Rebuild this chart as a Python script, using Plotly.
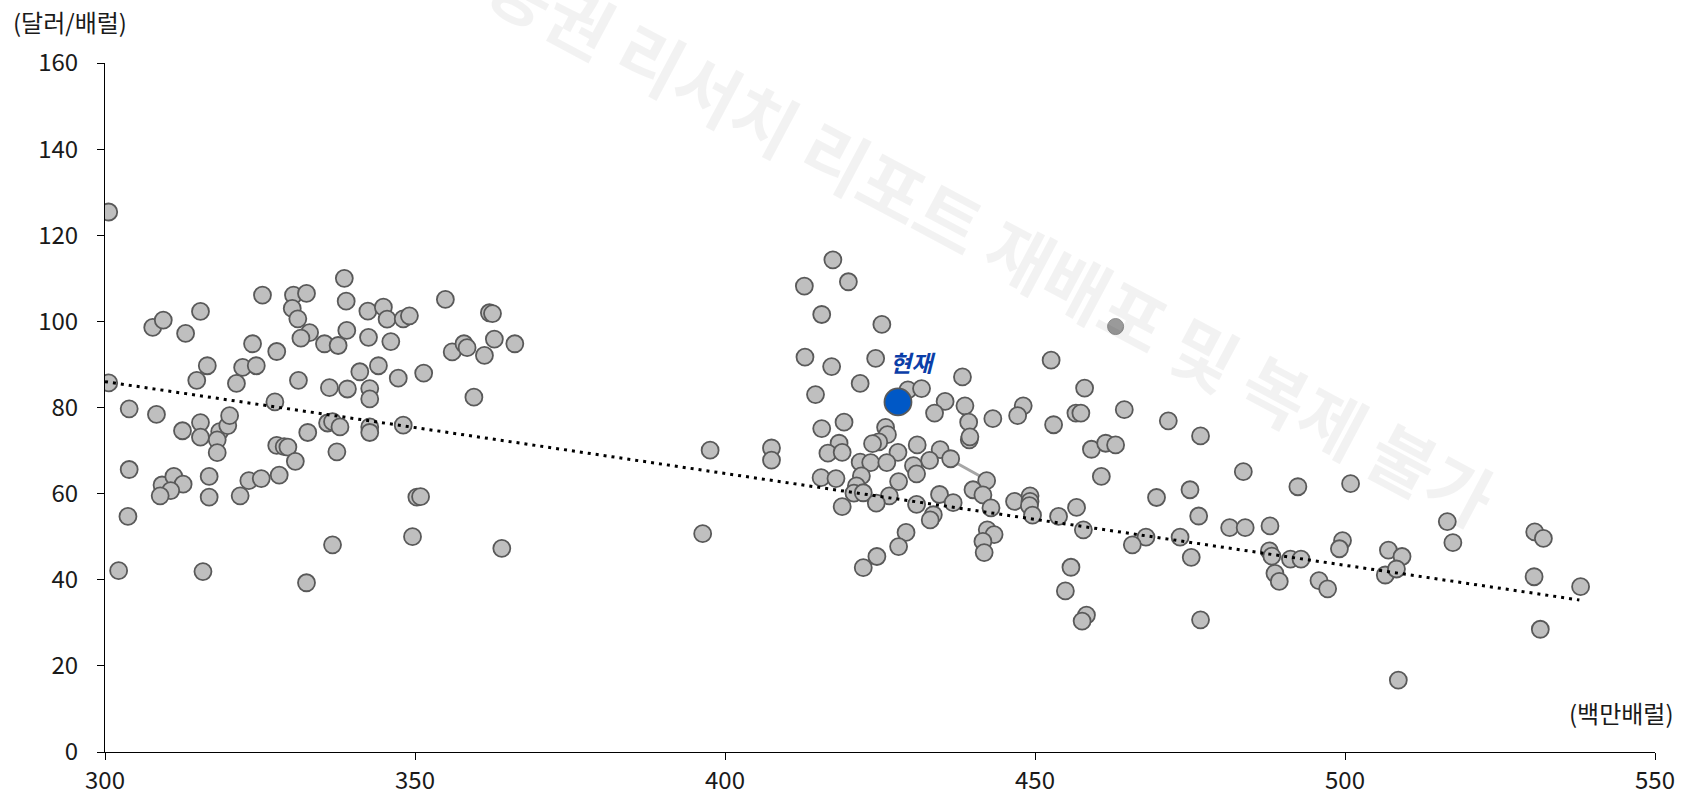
import plotly.graph_objects as go

# x: 백만배럴, y: 달러/배럴
x_hist = [300.6, 300.6, 303.9, 303.9, 303.7, 302.2, 307.7, 309.4, 308.3, 313.0, 315.4, 316.5, 314.8, 312.5, 315.4,
          315.4, 318.5, 318.1, 318.1, 319.8, 320.1, 309.2, 311.1, 312.6, 310.6, 308.9, 316.8, 316.8, 315.8, 321.8,
          323.2, 325.2, 328.1, 323.8, 322.2, 324.4, 321.2, 325.4, 327.7, 327.4, 327.7, 328.9, 329.5, 330.7, 330.4,
          332.5, 330.2, 331.1, 333.0, 331.6, 331.2, 332.7, 335.4, 337.6, 338.6, 338.9, 339.0, 336.2, 339.1, 335.9,
          336.7, 337.9, 337.4, 336.7, 332.5, 342.4, 344.9, 345.5, 342.5, 346.1, 344.1, 341.1, 342.7, 342.7, 342.7,
          342.7, 347.3, 348.1, 349.1, 348.1, 351.4, 350.3, 350.9, 349.6, 354.9, 356.0, 357.9, 358.4, 361.2, 359.5,
          362.0, 362.5, 362.8, 366.1, 364.0,
          397.6, 396.4, 407.5, 407.5, 417.4, 412.8, 419.9, 415.6, 425.3, 412.9, 417.2, 424.3, 421.8, 414.6, 429.5,
          431.7, 438.3, 435.5, 433.8, 438.7, 439.3, 439.4, 439.5, 443.2, 448.1, 447.2, 452.6, 458.0, 456.6, 457.4,
          453.0, 459.1, 461.4, 463.0, 460.7, 415.6, 419.2, 418.4, 416.6, 418.9, 425.9, 426.2, 424.8, 423.8, 427.9,
          431.0, 434.7, 433.0, 436.4, 421.8, 423.5, 426.1, 430.4, 430.9, 422.0, 415.5, 417.9, 428.0, 421.2, 420.8,
          422.3, 426.5, 424.4, 418.9, 430.9, 434.6, 436.8, 442.2, 440.0, 441.6, 442.9, 433.6, 433.1, 429.2, 428.0,
          424.5, 422.3, 442.3, 443.4, 441.6, 441.8, 446.7, 449.2, 449.2, 449.1, 449.6, 453.8, 456.7, 457.8, 455.8,
          454.9, 458.3, 457.6,
          464.4, 471.5, 476.7, 483.6, 475.0, 469.6, 476.4, 467.9, 465.7, 473.4, 475.2, 476.7, 481.4, 483.9, 487.9,
          492.4, 500.9, 487.8, 488.2, 488.7, 489.4, 491.2, 492.9, 495.8, 497.2, 499.6, 499.1, 507.0, 509.2, 506.5,
          508.3, 508.6, 516.5, 517.4, 530.6, 532.0, 530.5, 531.5, 538.0]
y_hist = [125.4, 85.7, 79.7, 65.6, 54.7, 42.1, 98.6, 100.3, 78.4, 97.2, 102.3, 89.7, 86.3, 74.6, 76.5,
          73.1, 74.4, 72.5, 69.5, 75.8, 78.1, 62.0, 64.0, 62.2, 60.7, 59.5, 64.0, 59.2, 41.9, 59.5,
          63.0, 63.5, 64.3, 94.8, 89.3, 89.7, 85.6, 106.1, 93.0, 81.3, 71.2, 70.9, 70.8, 67.5, 106.1,
          106.5, 103.0, 100.6, 97.4, 96.1, 86.3, 74.2, 94.8, 94.4, 110.0, 104.7, 97.9, 84.6, 84.3, 76.4,
          76.7, 75.5, 69.7, 48.1, 39.3, 102.4, 103.3, 100.5, 96.3, 95.3, 89.7, 88.3, 84.4, 82.0, 75.5,
          74.2, 86.8, 100.6, 101.3, 75.9, 88.0, 59.2, 59.3, 50.0, 105.1, 92.9, 94.8, 93.9, 92.1, 82.4,
          102.0, 101.8, 95.9, 94.8, 47.3,
          70.1, 50.7, 70.6, 67.8, 114.3, 108.2, 109.2, 101.6, 99.3, 91.7, 89.5, 91.4, 85.6, 83.0, 84.1,
          84.4, 87.1, 81.4, 78.7, 80.4, 76.6, 72.5, 73.2, 77.4, 80.4, 78.1, 91.0, 84.5, 78.7, 78.7,
          76.0, 70.3, 71.7, 71.3, 64.0, 75.1, 76.6, 71.7, 69.4, 69.6, 75.4, 73.7, 72.0, 71.6, 69.6,
          71.3, 70.2, 67.7, 68.1, 67.3, 67.2, 67.2, 66.5, 64.6, 64.1, 63.7, 63.5, 62.8, 61.8, 60.1,
          60.2, 59.5, 57.8, 57.0, 57.5, 59.8, 57.9, 63.0, 60.9, 59.7, 56.7, 55.1, 53.9, 51.0, 47.7,
          45.4, 42.8, 51.6, 50.5, 48.9, 46.3, 58.2, 59.5, 58.2, 57.2, 55.0, 54.7, 56.8, 51.6, 42.9,
          37.4, 31.8, 30.4,
          79.5, 76.9, 73.4, 65.1, 60.9, 59.1, 54.8, 49.9, 48.1, 49.9, 45.2, 30.7, 52.1, 52.1, 52.5,
          61.6, 62.3, 46.7, 45.5, 41.5, 39.6, 44.8, 44.8, 39.8, 37.9, 49.1, 47.2, 46.9, 45.4, 41.1,
          42.5, 16.7, 53.5, 48.6, 51.1, 49.6, 40.7, 28.5, 38.4]

x_now = [427.9]
y_now = [81.3]

x_faded = [463.0]
y_faded = [98.8]

x_leader = [437.4, 441.1]
y_leader = [67.05, 64.1]

trend_x = [300, 537.8]
trend_y = [86.0, 35.3]

x_ticks = [300, 350, 400, 450, 500, 550]
y_ticks = [0, 20, 40, 60, 80, 100, 120, 140, 160]

font_kr = "Noto Sans CJK KR"

fig = go.Figure()

fig.add_trace(go.Scatter(x=x_leader, y=y_leader, mode='lines',
                         line=dict(color='#a6a6a6', width=3), hoverinfo='skip'))

fig.add_trace(go.Scatter(x=x_hist, y=y_hist, mode='markers',
                         marker=dict(size=17, color='#bfbfbf', line=dict(color='#595959', width=1.8))))

fig.add_trace(go.Scatter(x=x_faded, y=y_faded, mode='markers',
                         marker=dict(size=16, color='#9a9a9a', line=dict(color='#8c8c8c', width=1))))

fig.add_trace(go.Scatter(x=trend_x, y=trend_y, mode='lines',
                         line=dict(color='black', width=3, dash='3px,5px')))

fig.add_trace(go.Scatter(x=x_now, y=y_now, mode='markers',
                         marker=dict(size=27, color='#0058c6', line=dict(color='#595959', width=1.8))))

# watermark (data refs so it does not push the margins)
fig.add_annotation(text="<b>증권 리서치 리포트 재배포 및 복제 불가</b>", x=443.3, y=119.3,
                   xanchor='center', yanchor='middle', showarrow=False, textangle=28,
                   font=dict(family=font_kr, size=70, color='rgba(0,0,0,0.05)'))

fig.add_annotation(text="<b><i>현재</i></b>", x=430.3, y=90.6, showarrow=False,
                   xanchor='center', yanchor='middle',
                   font=dict(family=font_kr, size=23, color='#0b3ea8'))

fig.add_annotation(text="(달러/배럴)", xref='paper', yref='paper', x=-0.0606, y=1.06,
                   xanchor='left', yanchor='middle', showarrow=False,
                   font=dict(family=font_kr, size=24, color='#1a1a1a'))

fig.add_annotation(text="(백만배럴)", xref='paper', yref='paper', x=1.0135, y=0.057,
                   xanchor='right', yanchor='middle', showarrow=False,
                   font=dict(family=font_kr, size=24, color='#1a1a1a'))

fig.update_xaxes(range=[300, 550], tickvals=x_ticks, showgrid=False, zeroline=False, automargin=False,
                 showline=True, linecolor='black', linewidth=1, ticks='outside', ticklen=7,
                 tickcolor='black', tickfont=dict(family=font_kr, size=24, color='#1a1a1a'))
fig.update_yaxes(range=[0, 160], tickvals=y_ticks, showgrid=False, zeroline=False, automargin=False,
                 showline=True, linecolor='black', linewidth=1, ticks='outside', ticklen=7,
                 ticklabelstandoff=14,
                 tickcolor='black', tickfont=dict(family=font_kr, size=24, color='#1a1a1a'))

fig.update_layout(width=1688, height=795, showlegend=False,
                  plot_bgcolor='white', paper_bgcolor='white',
                  margin=dict(l=105, r=33, t=63, b=43))

fig.write_html("out.html", config={'displayModeBar': False},
               post_script="document.body.style.margin='0px';")
